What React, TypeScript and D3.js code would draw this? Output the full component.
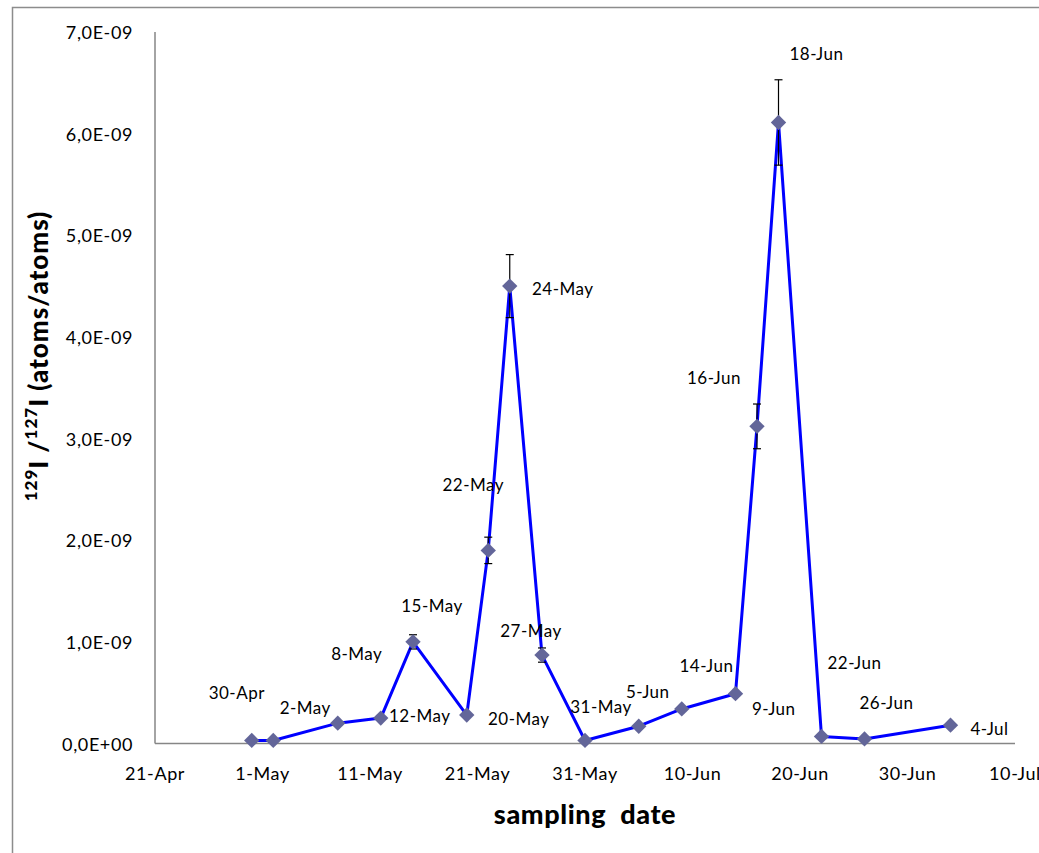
import React from "react";
import * as d3 from "d3";

const dates = [
  "2011-04-30", "2011-05-02", "2011-05-08", "2011-05-12", "2011-05-15", "2011-05-20",
  "2011-05-22", "2011-05-24", "2011-05-27", "2011-05-31", "2011-06-05", "2011-06-09",
  "2011-06-14", "2011-06-16", "2011-06-18", "2011-06-22", "2011-06-26", "2011-07-04",
];
const ratios = [
  0.03e-9, 0.03e-9, 0.2e-9, 0.25e-9, 1.0e-9, 0.28e-9,
  1.9e-9, 4.5e-9, 0.87e-9, 0.03e-9, 0.17e-9, 0.34e-9,
  0.49e-9, 3.12e-9, 6.11e-9, 0.07e-9, 0.045e-9, 0.18e-9,
];
const errors = [
  0.005e-9, 0.005e-9, 0.01e-9, 0.01e-9, 0.07e-9, 0.01e-9,
  0.13e-9, 0.31e-9, 0.07e-9, 0.005e-9, 0.01e-9, 0.01e-9,
  0.02e-9, 0.22e-9, 0.42e-9, 0.01e-9, 0.005e-9, 0.01e-9,
];
const yTicks = [0, 1e-9, 2e-9, 3e-9, 4e-9, 5e-9, 6e-9, 7e-9];
const yTickLabels = ["0,0E+00", "1,0E-09", "2,0E-09", "3,0E-09", "4,0E-09", "5,0E-09", "6,0E-09", "7,0E-09"];
const xTickDates = ["2011-04-21", "2011-05-01", "2011-05-11", "2011-05-21", "2011-05-31", "2011-06-10", "2011-06-20", "2011-06-30", "2011-07-10"];

// label placement offsets (layout only)
const labelOffsets: [number, number][] = [
  [-15, -48], [32, -33], [19, -70], [39, -3], [19, -36], [52, 3],
  [-15, -66], [53, 2], [-11, -25], [16, -34], [9, -35], [92, 0],
  [-29, -28], [-43, -49], [38, -69], [33, -74], [22, -36], [39, 3],
];

const parse = d3.utcParse("%Y-%m-%d");
const fmtLabel = d3.utcFormat("%-d-%b");

export default function App() {
  const FONT = "Lato, 'Open Sans', sans-serif";
  const x = d3.scaleUtc().domain([parse("2011-04-21")!, parse("2011-07-10")!]).range([155, 1015]);
  const y = d3.scaleLinear().domain([0, 7e-9]).range([743.5, 32]);
  const pts = dates.map((d, i) => ({ date: parse(d)!, v: ratios[i], e: errors[i], off: labelOffsets[i] }));
  const line = d3.line<{ date: Date; v: number }>().x((d) => x(d.date)).y((d) => y(d.v));
  const diamond = d3.symbol().type(d3.symbolDiamond2).size(150)();

  return (
    <svg width={1039} height={853} style={{ position: "absolute", left: 0, top: 0, background: "#fff" }} fontFamily={FONT}>
      <rect x={12.5} y={7.5} width={1100} height={900} fill="none" stroke="#8c8c8c" strokeWidth={1.5} />
      {/* axes */}
      <line x1={155} x2={155} y1={y(7e-9)} y2={y(0)} stroke="#868686" strokeWidth={1.5} />
      <line x1={155} x2={1015} y1={y(0)} y2={y(0)} stroke="#868686" strokeWidth={1.5} />
      {yTicks.map((t, i) => (
        <text key={"yt" + i} x={133} y={y(t)} textAnchor="end" dominantBaseline="central" fontSize={18} letterSpacing={0.6} fill="#000">
          {yTickLabels[i]}
        </text>
      ))}
      {xTickDates.map((d, i) => (
        <text key={"xt" + i} x={x(parse(d)!)} y={773} textAnchor="middle" dominantBaseline="central" fontSize={18} letterSpacing={0.6} fill="#000">
          {fmtLabel(parse(d)!)}
        </text>
      ))}
      {/* line */}
      <path d={line(pts) ?? ""} fill="none" stroke="#0000ff" strokeWidth={3} strokeLinejoin="round" />
      {/* error bars */}
      {pts.map((p, i) => (
        <g key={"eb" + i} stroke="#000" strokeWidth={1.2}>
          <line x1={x(p.date)} x2={x(p.date)} y1={y(p.v + p.e)} y2={y(p.v - p.e)} />
          <line x1={x(p.date) - 4} x2={x(p.date) + 4} y1={y(p.v + p.e)} y2={y(p.v + p.e)} />
          <line x1={x(p.date) - 4} x2={x(p.date) + 4} y1={y(p.v - p.e)} y2={y(p.v - p.e)} />
        </g>
      ))}
      {/* markers */}
      {pts.map((p, i) => (
        <path key={"m" + i} d={diamond ?? ""} transform={`translate(${x(p.date)},${y(p.v)})`} fill="#636699" />
      ))}
      {/* labels */}
      {pts.map((p, i) => (
        <text key={"l" + i} x={x(p.date) + p.off[0]} y={y(p.v) + p.off[1]} textAnchor="middle" dominantBaseline="central" fontSize={17} letterSpacing={0.5} fill="#000">
          {fmtLabel(p.date)}
        </text>
      ))}
      {/* axis titles */}
      <text x={585} y={813} textAnchor="middle" dominantBaseline="central" fontSize={27} fontWeight={900} letterSpacing={0.6} style={{ whiteSpace: "pre" }}>
        {"sampling  date"}
      </text>
      <text transform="translate(38,356) rotate(-90)" textAnchor="middle" dominantBaseline="central" fontSize={26} fontWeight={900} letterSpacing={1}>
        <tspan fontSize={17} dy={-8}>129</tspan>
        <tspan dy={8}>I /</tspan>
        <tspan fontSize={17} dy={-8}>127</tspan>
        <tspan dy={8}>I  (atoms/atoms)</tspan>
      </text>
    </svg>
  );
}
